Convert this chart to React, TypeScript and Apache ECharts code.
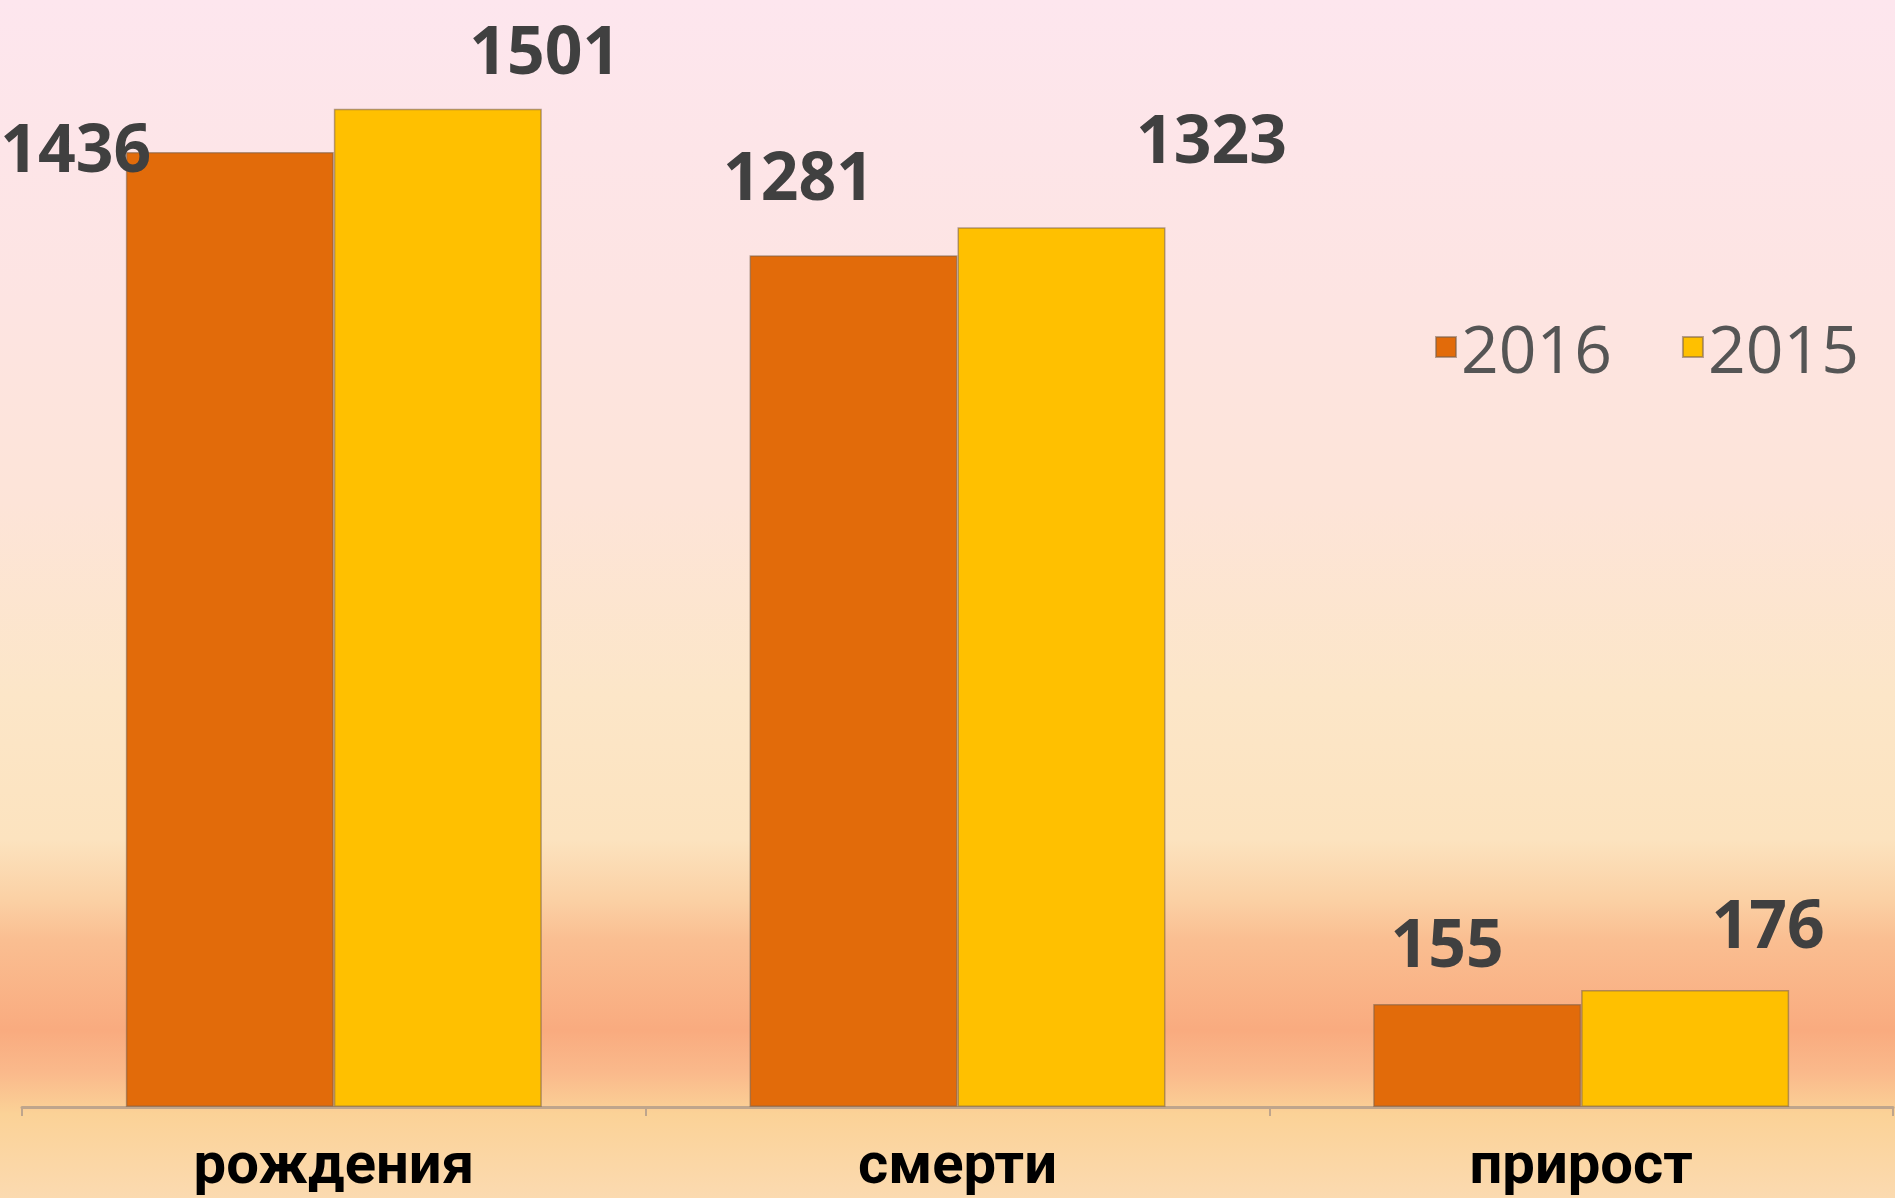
import React, { useEffect, useRef } from "react";
import * as echarts from "echarts";

const categories = ["рождения", "смерти", "прирост"];
const series2016 = [1436, 1281, 155];
const series2015 = [1501, 1323, 176];
const seriesNames = ["2016", "2015"];

// label placement offsets (styling only)
const offsets2016: [number, number][] = [[-154, 27], [-55, -48], [-30, -30]];
const offsets2015: [number, number][] = [[107, -28], [150, -57], [83, -35]];

const W = 1895;
const H = 1198;

export default function App() {
  const ref = useRef<HTMLDivElement>(null);
  useEffect(() => {
    document.body.style.margin = "0";
    document.body.style.overflow = "hidden";
    const chart = echarts.init(ref.current!, null, { renderer: "svg" });
    const labelStyle = {
      show: true,
      position: "top",
      distance: 0,
      fontFamily: "Open Sans",
      fontWeight: "bold",
      fontSize: 66,
      lineHeight: 66,
      color: "#404040",
    };
    const barBorder = { borderColor: "rgba(120,95,75,0.55)", borderWidth: 1.5 };
    const mk = (vals: number[], offs: [number, number][]) =>
      vals.map((v, i) => ({ value: v, label: { offset: offs[i] } }));
    chart.setOption({
      animation: false,
      graphic: [
        {
          type: "rect",
          z: -100,
          silent: true,
          shape: { x: 0, y: 0, width: W, height: H },
          style: {
            fill: new echarts.graphic.LinearGradient(0, 0, 0, 1, [
              { offset: 0, color: "#FDE6EE" },
              { offset: 0.25, color: "#FDE4E2" },
              { offset: 0.42, color: "#FDE4D8" },
              { offset: 0.58, color: "#FCE6C8" },
              { offset: 0.7, color: "#FCE3BF" },
              { offset: 0.75, color: "#FBD1A5" },
              { offset: 0.785, color: "#FABE91" },
              { offset: 0.86, color: "#F9AB7F" },
              { offset: 0.895, color: "#FAB98B" },
              { offset: 0.93, color: "#FBD297" },
              { offset: 1, color: "#FBDAB0" },
            ]),
          },
        },
      ],
      legend: {
        data: seriesNames,
        left: 1435,
        top: 314,
        padding: 0,
        itemWidth: 20,
        itemHeight: 20,
        itemGap: 70,
        icon: "rect",
        textStyle: { fontFamily: "Open Sans", fontSize: 66, color: "#555555" },
      },
      grid: { left: 22, right: 2, top: 43, bottom: H - 1107, containLabel: false },
      xAxis: {
        type: "category",
        data: categories,
        axisLine: { show: true, lineStyle: { color: "#BFA58C", width: 3 } },
        axisTick: { show: true, length: 9, lineStyle: { color: "#BFA58C", width: 2 } },
        axisLabel: {
          margin: 26,
          fontFamily: "Roboto",
          fontWeight: "bold",
          fontSize: 58,
          lineHeight: 60,
          color: "#000000",
        },
      },
      yAxis: {
        type: "value",
        min: 0,
        max: 1600,
        show: false,
        splitLine: { show: false },
      },
      series: [
        {
          name: seriesNames[0],
          type: "bar",
          data: mk(series2016, offsets2016),
          barGap: "0%",
          barCategoryGap: "33.3%",
          itemStyle: { color: "#E26B0A", ...barBorder },
          label: labelStyle,
        },
        {
          name: seriesNames[1],
          type: "bar",
          data: mk(series2015, offsets2015),
          barGap: "0%",
          barCategoryGap: "33.3%",
          itemStyle: { color: "#FFC000", ...barBorder },
          label: labelStyle,
        },
      ],
    });
    return () => chart.dispose();
  }, []);
  return <div ref={ref} style={{ width: W, height: H }} />;
}
